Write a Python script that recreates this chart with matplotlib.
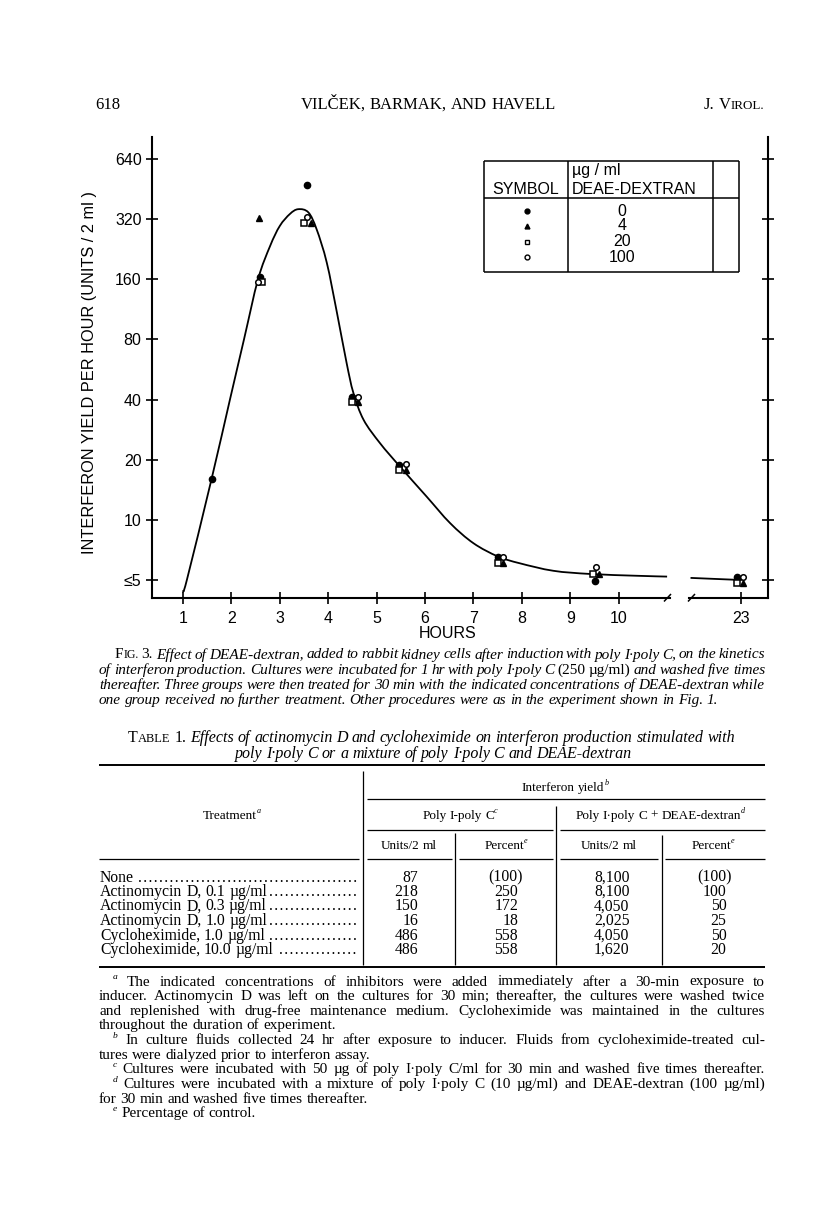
import numpy as np
import matplotlib
matplotlib.use('Agg')
import matplotlib.pyplot as plt
from matplotlib.ticker import FixedLocator, NullLocator
from matplotlib.path import Path
from matplotlib.patches import PathPatch

W, H = 816, 1210
SANS = 'Liberation Sans'
SERIF = ['Liberation Serif', 'DejaVu Serif']
PX = 100 / 72.0

# Fig. 3 values (hours, units/2 ml per hour)
dot_h = [1.59, 2.59, 3.56, 4.49, 5.47, 7.51, 9.52, 22.92]
dot_v = [16, 165, 475, 41, 18.9, 6.55, 4.93, 5.17]
tri_h = [2.58, 3.64, 4.62, 5.60, 7.61, 9.60, 23.05]
tri_v = [325, 305, 38.8, 17.8, 6.06, 5.36, 4.85]
sq_h = [2.64, 3.50, 4.49, 5.47, 7.51, 9.46, 22.92]
sq_v = [155, 307, 38.8, 17.8, 6.06, 5.36, 4.85]
circ_h = [2.54, 3.56, 4.61, 5.60, 7.61, 9.53, 23.05]
circ_v = [156, 329, 41, 19, 6.55, 5.79, 5.17]

# hand drawn curve, read point by point
curve_h = [1.0, 1.08, 1.59, 1.97, 2.26, 2.55, 2.8, 3.0, 3.21, 3.38, 3.59, 3.76,
           3.97, 4.18, 4.38, 4.52, 4.73, 5.07, 5.48, 6.03, 6.52, 7.0, 7.51,
           7.96, 8.65, 9.41, 10.37, 11.0]
curve_v = [4.42, 5.0, 16, 40, 80, 160, 235, 296, 340, 359, 346, 285,
           194, 109, 61, 43.2, 31.7, 24.2, 18.5, 13.1, 9.62, 7.64, 6.55,
           6.06, 5.56, 5.36, 5.25, 5.2]
curve2_h = [21.98, 23.0]
curve2_v = [5.12, 5.0]

yticks = [5, 10, 20, 40, 80, 160, 320, 640]
ytick_labels = ['\u22645', '10', '20', '40', '80', '160', '320', '640']
xticks = [1, 2, 3, 4, 5, 6, 7, 8, 9, 10]

legend_doses = ['0', '4', '20', '100']

# Table 1
treatments = ['None', 'Actinomycin D, 0.1 \u00b5g/ml', 'Actinomycin D, 0.3 \u00b5g/ml',
              'Actinomycin D, 1.0 \u00b5g/ml', 'Cycloheximide, 1.0 \u00b5g/ml',
              'Cycloheximide, 10.0 \u00b5g/ml']
pc_units = ['87', '218', '150', '16', '486', '486']
pc_pct = ['(100)', '250', '172', '18', '558', '558']
dd_units = ['8,100', '8,100', '4,050', '2,025', '4,050', '1,620']
dd_pct = ['(100)', '100', '50', '25', '50', '20']


def smooth_path(h, v):
    # Catmull-Rom through the read points, built in (hours, log2) space
    p = np.column_stack([h, np.log2(v)])
    verts, codes = [p[0]], [Path.MOVETO]
    for i in range(len(p) - 1):
        p0 = p[i - 1] if i > 0 else p[i]
        p3 = p[i + 2] if i + 2 < len(p) else p[i + 1]
        verts += [p[i] + (p[i + 1] - p0) / 6, p[i + 1] - (p3 - p[i]) / 6, p[i + 1]]
        codes += [Path.CURVE4] * 3
    verts = np.array(verts)
    verts[:, 1] = 2 ** verts[:, 1]
    return Path(verts, codes)


fig = plt.figure(figsize=(W / 100, H / 100), dpi=100)
fig.patch.set_facecolor('white')

ax = fig.add_axes([152 / W, 1 - 598 / H, (670 - 152) / W, (598 - 137) / H])
ax2 = fig.add_axes([689 / W, 1 - 598 / H, (768 - 689) / W, (598 - 137) / H])
for a in (ax, ax2):
    a.set_yscale('log', base=2)
    a.set_ylim(4.063, 825)
    a.yaxis.set_major_locator(FixedLocator(yticks))
    a.yaxis.set_minor_locator(NullLocator())
    a.xaxis.set_minor_locator(NullLocator())
    a.patch.set_alpha(0)
    a.tick_params(direction='inout', length=9, width=1.2, labelsize=11.5)
ax.set_xlim(0.36, 11.06)
ax2.set_xlim(21.93, 23.56)
ax.set_xticks(xticks)
ax.set_yticklabels(ytick_labels, family=SANS)
ax.set_xticklabels([str(t) for t in xticks], family=SANS)
ax2.set_xticks([23])
ax2.set_xticklabels(['23'], family=SANS)
ax.tick_params(axis='y', pad=3)
ax.tick_params(axis='x', pad=5)
ax2.tick_params(axis='x', pad=5)
ax2.yaxis.tick_right()
ax2.tick_params(axis='y', labelright=False)
for s in ('top', 'right'):
    ax.spines[s].set_visible(False)
for s in ('top', 'left'):
    ax2.spines[s].set_visible(False)
for a in (ax, ax2):
    for s in a.spines.values():
        s.set_linewidth(1.5)

ax.add_patch(PathPatch(smooth_path(curve_h, curve_v), fill=False, lw=1.3, ec='black'))
ax2.plot(curve2_h, curve2_v, color='black', lw=1.3)

mk = dict(ls='none', color='black', zorder=3)
for a in (ax, ax2):
    a.plot(dot_h, dot_v, marker='o', ms=4.5, mfc='black', **mk)
    a.plot(tri_h, tri_v, marker='^', ms=5, mfc='black', **mk)
    a.plot(sq_h, sq_v, marker='s', ms=4, mfc='white', mew=1.1, **mk)
    a.plot(circ_h, circ_v, marker='o', ms=4, mfc='white', mew=1.1, **mk)
ax.set_xlim(0.36, 11.06)
ax2.set_xlim(21.93, 23.56)
ax.set_ylim(4.063, 825)
ax2.set_ylim(4.063, 825)

# whole page in pixel coordinates for text and rules
page = fig.add_axes([0, 0, 1, 1], zorder=5)
page.set_xlim(0, W)
page.set_ylim(H, 0)
page.axis('off')
renderer = fig.canvas.get_renderer()


def words_of(segs):
    words = [[]]
    for txt, st in segs:
        for k, p in enumerate(txt.split(' ')):
            if k > 0 and words[-1]:
                words.append([])
            if p:
                words[-1].append((p, st))
    return [w for w in words if w]


def piece(x, y, txt, st, size):
    kw = dict(family=SERIF, fontsize=size, va='baseline', ha='left')
    if st in ('i', 'sup'):
        kw['style'] = 'italic'
    if st == 'sup':
        kw['fontsize'] = size * 0.62
        y -= size * PX * 0.42
    if st == 'sc':
        kw['fontsize'] = size * 0.78
    t = page.text(x, y, txt, **kw)
    return t, t.get_window_extent(renderer).width


def line(segs, y, x0, x1=None, size=10, align='left'):
    drawn = []
    for w in words_of(segs):
        arts, x = [], 0
        for txt, st in w:
            t, wd = piece(x, y, txt, st, size)
            arts.append((t, x))
            x += wd
        drawn.append((arts, x))
    total = sum(d[1] for d in drawn)
    space = 0.25 * size * PX
    if align == 'justify' and len(drawn) > 1:
        space = (x1 - x0 - total) / (len(drawn) - 1)
    elif align == 'center':
        x0 = x0 - (total + space * (len(drawn) - 1)) / 2
    elif align == 'right':
        x0 = x0 - (total + space * (len(drawn) - 1))
    x = x0
    for arts, wd in drawn:
        for t, off in arts:
            t.set_x(x + off)
        x += wd + space
    return x - space


def rule(x0, x1, y0, y1, lw=0.9):
    page.plot([x0, x1], [y0, y1], color='black', lw=lw, solid_capstyle='butt')


# running head
line([('618', 'r')], 109, 95, size=12)
line([('VIL\u010cEK, BARMAK, AND HAVELL', 'r')], 109, 428, size=12, align='center')
line([('J. V', 'r'), ('IROL.', 'sc')], 109, 764, size=12, align='right')

# axis break marks and titles
rule(664, 671, 601.5, 594, lw=1.1)
rule(688, 695, 601.5, 594, lw=1.1)
page.text(90, 373, 'INTERFERON YIELD PER HOUR (UNITS / 2 ml )', rotation=90,
          ha='center', va='center', family=SANS, fontsize=11.8)
page.text(448, 633, 'HOURS', ha='center', va='center', family=SANS, fontsize=11.5)

# legend box
rule(484, 739, 161, 161, lw=1.1)
rule(484, 739, 272, 272, lw=1.1)
rule(484, 739, 198, 198, lw=1.1)
for xv in (484, 568, 713, 739):
    rule(xv, xv, 161, 272, lw=1.1)
page.text(526, 189, 'SYMBOL', ha='center', va='center', family=SANS, fontsize=11.5)
page.text(572, 171, '\u00b5g / ml', ha='left', va='center', family=SANS, fontsize=11.5)
page.text(572, 189, 'DEAE-DEXTRAN', ha='left', va='center', family=SANS, fontsize=11.5)
leg_y = [211, 226, 241.5, 257]
leg_style = [dict(marker='o', mfc='black'), dict(marker='^', mfc='black'),
             dict(marker='s', mfc='white'), dict(marker='o', mfc='white')]
for yy, lab, st in zip(leg_y, legend_doses, leg_style):
    page.plot([526.5], [yy], ls='none', color='black', ms=3.5, mew=1, **st)
    page.text(621.7, yy, lab, ha='center', va='center', family=SANS, fontsize=11.5)

# figure legend
cap = [
    ([('F', 'r'), ('IG.', 'sc'), (' 3. ', 'r'),
      ('Effect of DEAE-dextran, added to rabbit kidney cells after induction with poly I\u00b7poly C, on the kinetics', 'i')], 115, 'justify'),
    ([('of interferon production. Cultures were incubated for 1 hr with poly I\u00b7poly C ', 'i'),
      ('(250 \u00b5g/ml) ', 'r'), ('and washed five times', 'i')], 99, 'justify'),
    ([('thereafter. Three groups were then treated for 30 min with the indicated concentrations of DEAE-dextran while', 'i')], 99, 'justify'),
    ([('one group received no further treatment. Other procedures were as in the experiment shown in Fig. 1.', 'i')], 99, 'left'),
]
for k, (segs, x0, al) in enumerate(cap):
    line(segs, 658.5 + 15.2 * k, x0, 765, size=11, align=al)

# table title
line([('T', 'r'), ('ABLE', 'sc'), (' 1. ', 'r'),
      ('Effects of actinomycin D and cycloheximide on interferon production stimulated with', 'i')],
     742.5, 128, 735, size=11.5, align='justify')
line([('poly I\u00b7poly C or a mixture of poly I\u00b7poly C and DEAE-dextran', 'i')],
     757.5, 433, size=11.5, align='center')

# table rules
rule(99, 765, 765, 765, lw=1.4)
rule(99, 765, 967, 967, lw=1.4)
rule(363, 363, 771, 965)
rule(556, 556, 806, 965)
rule(455, 455, 833, 965)
rule(662, 662, 835, 965)
rule(367, 765, 799, 799)
rule(367, 553, 830, 830)
rule(560, 765, 830, 830)
rule(99, 359, 859, 859)
for a_, b_ in ((367, 452), (459, 553), (560, 658), (665, 765)):
    rule(a_, b_, 859, 859)

# table headings
hs = 9.5
line([('Treatment', 'r'), ('a', 'sup')], 819, 232, size=hs, align='center')
line([('Interferon yield', 'r'), ('b', 'sup')], 791, 565, size=hs, align='center')
line([('Poly I-poly C', 'r'), ('c', 'sup')], 819, 460, size=hs, align='center')
line([('Poly I\u00b7poly C + DEAE-dextran', 'r'), ('d', 'sup')], 819, 660, size=hs, align='center')
line([('Units/2 ml', 'r')], 849, 409, size=hs, align='center')
line([('Percent', 'r'), ('e', 'sup')], 849, 506, size=hs, align='center')
line([('Units/2 ml', 'r')], 849, 609, size=hs, align='center')
line([('Percent', 'r'), ('e', 'sup')], 849, 713, size=hs, align='center')

# table body
bs = 11.3
for i, name in enumerate(treatments):
    y = 881.5 + 14.5 * i
    end = line([(name, 'r')], y, 100, size=bs)
    t, w = piece(0, y, '.\u200a' * 10, 'r', bs)
    dot_w = w / 10
    t.remove()
    n = int((358 - end - 1) / dot_w)
    page.text(358, y, '.\u200a' * n, ha='right', va='baseline', family=SERIF, fontsize=bs)
    for xr, val in ((418, pc_units[i]), (629.5, dd_units[i])):
        page.text(xr, y, val, ha='right', va='baseline', family=SERIF, fontsize=bs)
    for xr, val in ((518, pc_pct[i]), (726.5, dd_pct[i])):
        if val.startswith('('):
            xr += 5
        page.text(xr, y, val, ha='right', va='baseline', family=SERIF, fontsize=bs)

# table footnotes
notes = [
    ([('a', 'sup'), (' The indicated concentrations of inhibitors were added immediately after a 30-min exposure to', 'r')], 113, 'justify'),
    ([('inducer. Actinomycin D was left on the cultures for 30 min; thereafter, the cultures were washed twice', 'r')], 99, 'justify'),
    ([('and replenished with drug-free maintenance medium. Cycloheximide was maintained in the cultures', 'r')], 99, 'justify'),
    ([('throughout the duration of experiment.', 'r')], 99, 'left'),
    ([('b', 'sup'), (' In culture fluids collected 24 hr after exposure to inducer. Fluids from cycloheximide-treated cul-', 'r')], 113, 'justify'),
    ([('tures were dialyzed prior to interferon assay.', 'r')], 99, 'left'),
    ([('c', 'sup'), (' Cultures were incubated with 50 \u00b5g of poly I\u00b7poly C/ml for 30 min and washed five times thereafter.', 'r')], 113, 'justify'),
    ([('d', 'sup'), (' Cultures were incubated with a mixture of poly I\u00b7poly C (10 \u00b5g/ml) and DEAE-dextran (100 \u00b5g/ml)', 'r')], 113, 'justify'),
    ([('for 30 min and washed five times thereafter.', 'r')], 99, 'left'),
    ([('e', 'sup'), (' Percentage of control.', 'r')], 113, 'left'),
]
for k, (segs, x0, al) in enumerate(notes):
    line(segs, 985.5 + 14.65 * k, x0, 765, size=11, align=al)

fig.savefig('out.png', dpi=100, facecolor='white')
